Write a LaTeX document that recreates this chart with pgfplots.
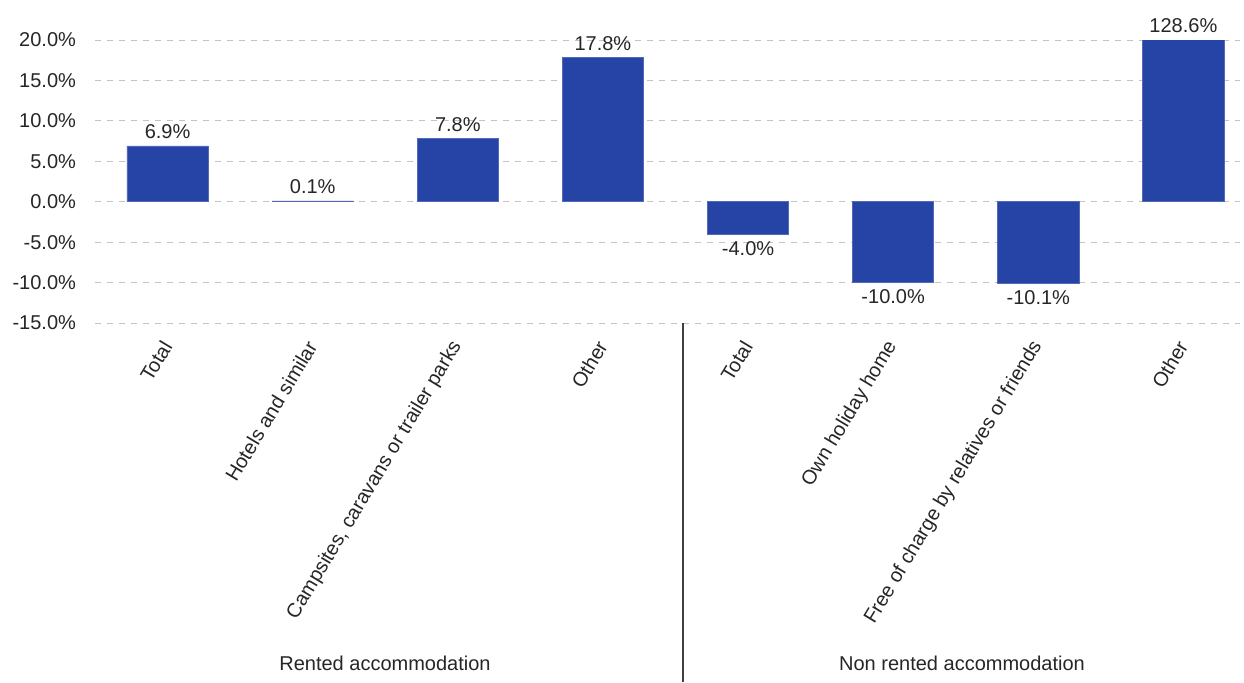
\documentclass[border=0pt]{standalone}
\usepackage{fontspec}
\setmainfont{Liberation Sans}
\usepackage{pgfplots}
\pgfplotsset{compat=1.18}
\definecolor{barblue}{RGB}{38,68,166}
\definecolor{gridgray}{RGB}{195,195,195}

\begin{document}
\begin{tikzpicture}
\path[use as bounding box] (0,0) rectangle (622pt,341pt);
\begin{axis}[
  at={(47.5pt,179.5pt)}, anchor=south west,
  scale only axis, width=572.5pt, height=141.5pt,
  xmin=-0.5, xmax=7.39, ymin=-15, ymax=20,
  ytick={-15,-10,...,20},
  axis line style={draw=none},
  major tick length=0pt,
  ymajorgrids, grid style={gridgray, dashed, line width=0.5pt},
  xtick={0,...,7},
  xticklabels={Total, Hotels and similar, {Campsites, caravans or trailer parks}, Other,
               Total, Own holiday home, Free of charge by relatives or friends, Other},
  xticklabel style={xshift=1.5pt, yshift=-7pt, rotate=59, anchor=east,
                    font=\fontsize{10}{12}\selectfont, text=black!85},
  yticklabel style={font=\fontsize{10}{12}\selectfont, xshift=-6pt, text=black!85},
  yticklabel={\pgfmathprintnumber[fixed,fixed zerofill,precision=1]{\tick}\%},
  /pgf/number format/assume math mode=true,
  clip=true,
  nodes near coords style={font=\fontsize{10}{12}\selectfont, text=black!85},
]
% change by accommodation type (bars beyond ymax are cut at the frame)
\addplot[ybar, bar width=0.56, fill=barblue, draw=barblue!80!white,
  nodes near coords={\pgfmathprintnumber[fixed,fixed zerofill,precision=1]{\pgfplotspointmeta}\%},
  nodes near coords align={vertical}]
  coordinates {(0,6.9) (1,0.1) (2,7.8) (3,17.8) (4,-4.0) (5,-10.0) (6,-10.1)};
\addplot[ybar, bar width=0.56, fill=barblue, draw=barblue!80!white]
  coordinates {(7,128.6)};
% value label of the cut bar, set at the top of the frame
\addplot[draw=none, point meta=explicit,
  nodes near coords={\pgfmathprintnumber[fixed,fixed zerofill,precision=1]{\pgfplotspointmeta}\%},
  nodes near coords align={vertical}]
  coordinates {(7,20) [128.6]};
\end{axis}
\draw[black!75, line width=0.6pt] (341.5pt,0) -- (341.5pt,179.5pt);
\node[font=\fontsize{10}{12}\selectfont, text=black!85] at (192.5pt,9.5pt) {Rented accommodation};
\node[font=\fontsize{10}{12}\selectfont, text=black!85] at (481pt,9.5pt) {Non rented accommodation};
\end{tikzpicture}
\end{document}
